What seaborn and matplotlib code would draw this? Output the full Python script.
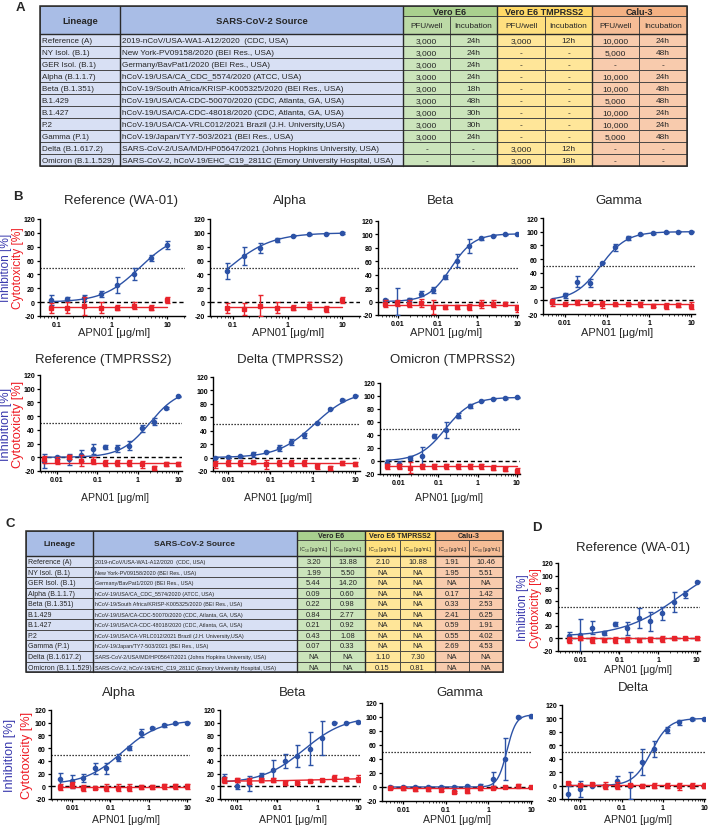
import numpy as np
import matplotlib
matplotlib.use("Agg")
import matplotlib.pyplot as plt
from matplotlib.patches import Rectangle
from matplotlib.ticker import FixedLocator, LogLocator, NullFormatter
import seaborn as sns

W, H = 708, 828

# ---------------- tables (A and C) ----------------
lineages = ["Reference (A)", "NY Isol. (B.1)", "GER Isol. (B.1)", "Alpha (B.1.1.7)",
            "Beta (B.1.351)", "B.1.429", "B.1.427", "P.2", "Gamma (P.1)",
            "Delta (B.1.617.2)", "Omicron (B.1.1.529)"]
sources = ["2019-nCoV/USA-WA1-A12/2020  (CDC, USA)",
           "New York-PV09158/2020 (BEI Res., USA)",
           "Germany/BavPat1/2020 (BEI Res., USA)",
           "hCoV-19/USA/CA_CDC_5574/2020 (ATCC, USA)",
           "hCoV-19/South Africa/KRISP-K005325/2020 (BEI Res., USA)",
           "hCoV-19/USA/CA-CDC-50070/2020 (CDC, Atlanta, GA, USA)",
           "hCoV-19/USA/CA-CDC-48018/2020 (CDC, Atlanta, GA, USA)",
           "hCoV-19/USA/CA-VRLC012/2021 Brazil (J.H. University,USA)",
           "hCoV-19/Japan/TY7-503/2021 (BEI Res., USA)",
           "SARS-CoV-2/USA/MD/HP05647/2021 (Johns Hopkins University, USA)",
           "SARS-CoV-2, hCoV-19/EHC_C19_2811C (Emory University Hospital, USA)"]
cell_lines = ["Vero E6", "Vero E6 TMPRSS2", "Calu-3"]

vero_pfu = ["3,000", "3,000", "3,000", "3,000", "3,000", "3,000", "3,000", "3,000", "3,000", "-", "-"]
vero_inc = ["24h", "24h", "24h", "24h", "18h", "48h", "30h", "30h", "24h", "-", "-"]
tmp_pfu = ["3,000", "-", "-", "-", "-", "-", "-", "-", "-", "3,000", "3,000"]
tmp_inc = ["12h", "-", "-", "-", "-", "-", "-", "-", "-", "12h", "18h"]
calu_pfu = ["10,000", "5,000", "-", "10,000", "10,000", "5,000", "10,000", "10,000", "5,000", "-", "-"]
calu_inc = ["24h", "48h", "-", "24h", "48h", "48h", "24h", "24h", "48h", "-", "-"]

vero_ic50 = ["3.20", "1.99", "5.44", "0.09", "0.22", "0.84", "0.21", "0.43", "0.07", "NA", "NA"]
vero_ic90 = ["13.88", "5.50", "14.20", "0.60", "0.98", "2.77", "0.92", "1.08", "0.33", "NA", "NA"]
tmp_ic50 = ["2.10", "NA", "NA", "NA", "NA", "NA", "NA", "NA", "NA", "1.10", "0.15"]
tmp_ic90 = ["10.88", "NA", "NA", "NA", "NA", "NA", "NA", "NA", "NA", "7.30", "0.81"]
calu_ic50 = ["1.91", "1.95", "NA", "0.17", "0.33", "2.41", "0.59", "0.55", "2.69", "NA", "NA"]
calu_ic90 = ["10.46", "5.51", "NA", "1.42", "2.53", "6.25", "1.91", "4.02", "4.53", "NA", "NA"]

# ---------------- dose-response data ----------------
dose_8 = [0.078, 0.156, 0.3125, 0.625, 1.25, 2.5, 5, 10]
dose_12 = [0.0049, 0.0098, 0.0195, 0.039, 0.078, 0.156, 0.3125, 0.625, 1.25, 2.5, 5, 10]

# fits: (bottom, top, ec50, hill)
ref_wa01_inh = [3, 5, 6, 12, 25, 41, 64, 82]
ref_wa01_inh_sd = [7, 2, 5, 4, 12, 9, 4, 6]
ref_wa01_cyt = [-8, -8, -5, -8, -8, -5, -8, 3]
ref_wa01_cyt_sd = [7, 8, 13, 8, 4, 5, 4, 4]
ref_wa01_fit = (0, 100, 3.2, 1.3)
ref_wa01_cyt_fit = (-7, -7, 1, 1)

alpha_b_inh = [45, 67, 78, 90, 96, 98, 99, 100]
alpha_b_inh_sd = [12, 13, 7, 3, 1, 1, 1, 1]
alpha_b_cyt = [-8, -10, -5, -8, -8, -5, -10, 3]
alpha_b_cyt_sd = [7, 9, 15, 8, 4, 5, 4, 4]
alpha_b_fit = (0, 100, 0.085, 1.1)
alpha_b_cyt_fit = (-7, -7, 1, 1)

beta_b_inh = [3, 0, 3, 12, 17, 36, 61, 83, 94, 98, 100, 101]
beta_b_inh_sd = [1, 20, 3, 4, 4, 3, 10, 10, 2, 1, 1, 1]
beta_b_cyt = [-3, -2, -3, -2, -8, -8, -8, -8, -3, -3, -3, -10]
beta_b_cyt_sd = [5, 5, 5, 6, 10, 3, 3, 4, 6, 5, 2, 5]
beta_b_fit = (0, 101, 0.22, 1.5)
beta_b_cyt_fit = (-5, -5, 1, 1)

gamma_b_inh = [-2, 7, 27, 25, 55, 77, 91, 96, 98, 99, 100, 100]
gamma_b_inh_sd = [4, 3, 8, 6, 1, 5, 3, 1, 1, 1, 1, 1]
gamma_b_cyt = [-3, -5, -3, -5, -6, -6, -6, -6, -8, -8, -7, -8]
gamma_b_cyt_sd = [5, 2, 4, 2, 5, 2, 2, 4, 2, 4, 3, 5]
gamma_b_fit = (0, 100, 0.07, 1.4)
gamma_b_cyt_fit = (-6, -6, 1, 1)

ref_tmp_inh = [-5, 0, -3, 3, 12, 15, 13, 17, 42, 52, 72, 89]
ref_tmp_inh_sd = [10, 2, 8, 8, 7, 3, 5, 7, 5, 5, 2, 1]
ref_tmp_cyt = [-3, -5, 0, -5, -5, -8, -8, -8, -10, -15, -10, -10]
ref_tmp_cyt_sd = [5, 5, 3, 8, 5, 4, 4, 4, 5, 3, 3, 3]
ref_tmp_fit = (0, 100, 2.0, 1.2)
ref_tmp_cyt_fit = (-8, -8, 1, 1)

delta_tmp_inh = [0, 1, 2, 5, 9, 14, 23, 33, 52, 73, 86, 92]
delta_tmp_inh_sd = [1, 1, 1, 4, 1, 4, 4, 4, 1, 1, 1, 1]
delta_tmp_cyt = [-10, -8, -8, -7, -10, -8, -8, -8, -13, -15, -8, -10]
delta_tmp_cyt_sd = [5, 4, 4, 2, 7, 4, 4, 4, 4, 3, 3, 3]
delta_tmp_fit = (0, 100, 1.1, 1.0)
delta_tmp_cyt_fit = (-8, -8, 1, 1)

omicron_tmp_inh = [-3, -5, 4, 8, 38, 48, 70, 85, 93, 96, 97, 98]
omicron_tmp_inh_sd = [5, 5, 3, 14, 3, 12, 4, 3, 1, 1, 1, 1]
omicron_tmp_cyt = [-8, -8, -10, -8, -8, -8, -8, -8, -8, -10, -12, -15]
omicron_tmp_cyt_sd = [4, 4, 8, 4, 4, 4, 4, 4, 4, 4, 3, 4]
omicron_tmp_fit = (0, 98, 0.15, 1.3)
omicron_tmp_cyt_fit = (-8, -8, 1, 1)

ref_calu_inh = [4, 5, 17, 9, 23, 16, 33, 27, 40, 58, 70, 90]
ref_calu_inh_sd = [7, 26, 10, 3, 3, 10, 16, 15, 10, 16, 5, 1]
ref_calu_cyt = [-2, 0, -3, -3, -2, -2, -2, -1, -1, 0, 0, 0]
ref_calu_cyt_sd = [5, 2, 5, 2, 5, 4, 3, 4, 5, 2, 3, 3]
ref_calu_fit = (3, 130, 3.5, 0.6)
ref_calu_cyt_fit = (0, 0, 1, 1)

alpha_c_inh = [11, 8, 13, 28, 28, 45, 60, 84, 92, 96, 99, 100]
alpha_c_inh_sd = [10, 10, 6, 8, 8, 6, 3, 6, 2, 2, 1, 1]
alpha_c_cyt = [-1, 2, -3, -3, -2, -2, -2, -1, -1, 0, 0, 0]
alpha_c_cyt_sd = [5, 5, 5, 2, 5, 5, 5, 3, 3, 4, 4, 4]
alpha_c_fit = (3, 104, 0.2, 0.9)
alpha_c_cyt_fit = (-0.5, -0.5, 1, 1)

beta_c_inh = [13, 1, 4, 16, 26, 40, 48, 59, 76, 100, 100, 101]
beta_c_inh_sd = [7, 5, 12, 5, 16, 11, 17, 26, 27, 1, 1, 1]
beta_c_cyt = [10, 10, 8, 10, 10, 5, 5, 8, 10, 13, 11, 12]
beta_c_cyt_sd = [5, 3, 5, 3, 3, 3, 2, 2, 2, 4, 2, 5]
beta_c_fit = (5, 110, 0.45, 0.85)
beta_c_cyt_fit = (8, 13, 1.5, 0.6)

gamma_c_inh = [0, 0, 0, 0, 0, 0, 1, 2, 12, 40, 100, 101]
gamma_c_inh_sd = [1, 1, 1, 1, 1, 1, 2, 2, 10, 30, 1, 2]
gamma_c_cyt = [-1, -2, -3, -3, -4, -7, -5, -2, -1, 0, 2, 0]
gamma_c_cyt_sd = [2, 2, 2, 2, 2, 2, 4, 2, 2, 2, 2, 2]
gamma_c_fit = (0, 103, 2.7, 4.0)
gamma_c_cyt_fit = (-1, -1, 1, 1)

delta_c_inh = [-12, -5, 0, 0, 7, 0, 35, 55, 83, 94, 99, 99]
delta_c_inh_sd = [12, 12, 1, 1, 8, 20, 19, 12, 4, 4, 1, 1]
delta_c_cyt = [4, 1, 2, 0, 0, 1, 0, 0, 0, -1, 0, 0]
delta_c_cyt_sd = [2, 2, 2, 5, 5, 2, 2, 4, 4, 5, 4, 4]
delta_c_fit = (0, 100, 0.52, 2.0)
delta_c_cyt_fit = (0.5, 0.5, 1, 1)

BLUE = "#2c52a6"
RED = "#e8232b"
INH_TXT = "#3a3aae"
CYT_TXT = "#ee1c24"
BLUE_HEAD, BLUE_ROW = "#a9bde6", "#d8e0f4"
GROUP_COLORS = [("#a9d08e", "#bcdaa6", "#cbe4bb"),
                ("#ffd966", "#ffe07f", "#ffe699"),
                ("#f4b183", "#f6bd96", "#f8cbad")]

sns.set_style("ticks")
plt.rcParams["font.family"] = ["Liberation Sans", "DejaVu Sans"]
plt.rcParams["axes.unicode_minus"] = False

fig = plt.figure(figsize=(W / 100, H / 100), dpi=100)
canvas = fig.add_axes([0, 0, 1, 1])
canvas.set_xlim(0, W)
canvas.set_ylim(H, 0)
canvas.axis("off")


def four_pl(x, bottom, top, ec50, hill):
    return bottom + (top - bottom) / (1 + (ec50 / x) ** hill)


def cell(x0, y0, x1, y1, color, text="", size=6, bold=False, ha="center", pad=2):
    canvas.add_patch(Rectangle((x0, y0), x1 - x0, y1 - y0, facecolor=color,
                               edgecolor="#3c3c3c", lw=0.6))
    if text:
        tx = (x0 + x1) / 2 if ha == "center" else x0 + pad
        canvas.text(tx, (y0 + y1) / 2 + 0.3, text, ha=ha, va="center", fontsize=size,
                    fontweight="bold" if bold else "normal")


def draw_table(xs, top, mid, head_bot, row_h, sub_labels, value_cols, sz):
    cell(xs[0], top, xs[1], head_bot, BLUE_HEAD, "Lineage", sz["head"], bold=True)
    cell(xs[1], top, xs[2], head_bot, BLUE_HEAD, "SARS-CoV-2 Source", sz["head"], bold=True)
    for g, name in enumerate(cell_lines):
        c_head, c_sub, _ = GROUP_COLORS[g]
        cell(xs[2 + 2 * g], top, xs[4 + 2 * g], mid, c_head, name, sz["group"], bold=True)
        for k in range(2):
            cell(xs[2 + 2 * g + k], mid, xs[3 + 2 * g + k], head_bot, c_sub,
                 sub_labels[k], sz["sub"])
    for i, lin in enumerate(lineages):
        y0 = head_bot + i * row_h
        y1 = y0 + row_h
        cell(xs[0], y0, xs[1], y1, BLUE_ROW, lin, sz["lineage"], ha="left", pad=1.5)
        cell(xs[1], y0, xs[2], y1, BLUE_ROW, sources[i], sz["source"], ha="left")
        for c, col in enumerate(value_cols):
            cell(xs[2 + c], y0, xs[3 + c], y1, GROUP_COLORS[c // 2][2], col[i], sz["value"])
    bottom = head_bot + len(lineages) * row_h
    canvas.add_patch(Rectangle((xs[0], top), xs[-1] - xs[0], bottom - top,
                               fill=False, edgecolor="#2a2a2a", lw=1.1))
    canvas.plot([xs[0], xs[-1]], [head_bot, head_bot], color="#2a2a2a", lw=1.0)
    for xv in (xs[1], xs[2], xs[4], xs[6]):
        canvas.plot([xv, xv], [top, bottom], color="#2a2a2a", lw=1.0)


# table A
draw_table([40, 120, 403, 450, 497, 545, 592, 639, 687], 7, 17, 35, 12,
           ["PFU/well", "Incubation"],
           [vero_pfu, vero_inc, tmp_pfu, tmp_inc, calu_pfu, calu_inc],
           dict(head=6.8, group=6.5, sub=5.9, lineage=5.8, source=5.9, value=6.0))

# table C
draw_table([26, 93, 297, 330, 365, 400, 435, 469, 503], 532, 541, 557, 10.55,
           ["IC\u2085\u2080 [µg/mL]", "IC\u2089\u2080 [µg/mL]"],
           [vero_ic50, vero_ic90, tmp_ic50, tmp_ic90, calu_ic50, calu_ic90],
           dict(head=6.0, group=5.1, sub=3.5, lineage=5.0, source=3.9, value=5.4))

# panel letters
for letter, (lx, ly) in {"A": (20, 8), "B": (18, 197), "C": (10, 524), "D": (537, 528)}.items():
    canvas.text(lx, ly, letter, fontsize=9.5, fontweight="bold", ha="center", va="center")

panels = [
    ("Reference (WA-01)", dose_8, ref_wa01_inh, ref_wa01_inh_sd, ref_wa01_cyt, ref_wa01_cyt_sd,
     ref_wa01_fit, ref_wa01_cyt_fit, (40, 220, 185, 317), (0.05, 21), [0.1, 1, 10],
     (121, 201), (114, 333, 8)),
    ("Alpha", dose_8, alpha_b_inh, alpha_b_inh_sd, alpha_b_cyt, alpha_b_cyt_sd,
     alpha_b_fit, alpha_b_cyt_fit, (210, 220, 360, 317), (0.038, 21), [0.1, 1, 10],
     (290, 201), (288, 333, 8)),
    ("Beta", dose_12, beta_b_inh, beta_b_inh_sd, beta_b_cyt, beta_b_cyt_sd,
     beta_b_fit, beta_b_cyt_fit, (378, 222, 518, 316), (0.0032, 10.5), [0.01, 0.1, 1, 10],
     (441, 201), (446, 333, 8)),
    ("Gamma", dose_12, gamma_b_inh, gamma_b_inh_sd, gamma_b_cyt, gamma_b_cyt_sd,
     gamma_b_fit, gamma_b_cyt_fit, (543, 219, 695, 315), (0.003, 12.4), [0.01, 0.1, 1, 10],
     (619, 201), (617, 333, 8)),
    ("Reference (TMPRSS2)", dose_12, ref_tmp_inh, ref_tmp_inh_sd, ref_tmp_cyt, ref_tmp_cyt_sd,
     ref_tmp_fit, ref_tmp_cyt_fit, (40, 376, 182, 472), (0.0038, 12.6), [0.01, 0.1, 1, 10],
     (103, 360), (115, 498, 7.6)),
    ("Delta (TMPRSS2)", dose_12, delta_tmp_inh, delta_tmp_inh_sd, delta_tmp_cyt, delta_tmp_cyt_sd,
     delta_tmp_fit, delta_tmp_cyt_fit, (213, 378, 360, 472), (0.0044, 13), [0.01, 0.1, 1, 10],
     (290, 360), (278, 498, 7.6)),
    ("Omicron (TMPRSS2)", dose_12, omicron_tmp_inh, omicron_tmp_inh_sd, omicron_tmp_cyt,
     omicron_tmp_cyt_sd, omicron_tmp_fit, omicron_tmp_cyt_fit, (380, 384, 520, 475),
     (0.0033, 12), [0.01, 0.1, 1, 10], (453, 360), (449, 498, 7.6)),
    ("Reference (WA-01)", dose_12, ref_calu_inh, ref_calu_inh_sd, ref_calu_cyt, ref_calu_cyt_sd,
     ref_calu_fit, ref_calu_cyt_fit, (558, 564, 700, 652), (0.0026, 12), [0.01, 0.1, 1, 10],
     (633, 548), (638, 670, 7.6)),
    ("Alpha", dose_12, alpha_c_inh, alpha_c_inh_sd, alpha_c_cyt, alpha_c_cyt_sd,
     alpha_c_fit, alpha_c_cyt_fit, (51, 711, 190, 800), (0.0028, 12), [0.01, 0.1, 1, 10],
     (119, 693), (126, 820, 7.6)),
    ("Beta", dose_12, beta_c_inh, beta_c_inh_sd, beta_c_cyt, beta_c_cyt_sd,
     beta_c_fit, beta_c_cyt_fit, (220, 711, 360, 800), (0.0038, 11), [0.01, 0.1, 1, 10],
     (292, 693), (293, 820, 7.6)),
    ("Gamma", dose_12, gamma_c_inh, gamma_c_inh_sd, gamma_c_cyt, gamma_c_cyt_sd,
     gamma_c_fit, gamma_c_cyt_fit, (382, 704, 532, 802), (0.0032, 10.5), [0.01, 0.1, 1, 10],
     (460, 693), (457, 820, 7.6)),
    ("Delta", dose_12, delta_c_inh, delta_c_inh_sd, delta_c_cyt, delta_c_cyt_sd,
     delta_c_fit, delta_c_cyt_fit, (562, 706, 705, 800), (0.0036, 10.5), [0.01, 0.1, 1, 10],
     (633, 688), (638, 820, 7.6)),
]

for (title, dose, inh, inh_sd, cyt, cyt_sd, fit, cyt_fit, rect, xlim, xticks,
     title_xy, xlab) in panels:
    l, t, r, b = rect
    ax = fig.add_axes([l / W, 1 - b / H, (r - l) / W, (b - t) / H])
    ax.patch.set_alpha(0)
    ax.set_xscale("log")
    ax.axhline(50, color="black", ls=(0, (1, 1.4)), lw=0.9, zorder=1)
    ax.axhline(0, color="black", ls=(0, (3, 2)), lw=1.0, zorder=1)

    xs = np.logspace(np.log10(dose[0]), np.log10(dose[-1]), 200)
    sns.lineplot(x=xs, y=four_pl(xs, *fit), ax=ax, color=BLUE, lw=1.0, zorder=3)
    sns.lineplot(x=xs, y=four_pl(xs, *cyt_fit), ax=ax, color=RED, lw=1.0, zorder=4)
    ax.errorbar(dose, inh, yerr=inh_sd, fmt="o", ms=3, color=BLUE, ecolor=BLUE,
                elinewidth=1, capsize=1.8, capthick=1, zorder=3)
    ax.errorbar(dose, cyt, yerr=cyt_sd, fmt="s", ms=2.8, color=RED, ecolor=RED,
                elinewidth=1, capsize=1.8, capthick=1, zorder=4)

    ax.set_xlim(*xlim)
    ax.set_ylim(-20, 120)
    ax.set_yticks(range(-20, 121, 20))
    ax.set_yticklabels([str(v) for v in range(-20, 121, 20)])
    ax.xaxis.set_major_locator(FixedLocator(xticks))
    ax.set_xticklabels([f"{v:g}" for v in xticks])
    ax.xaxis.set_minor_locator(LogLocator(base=10, subs=np.arange(2, 10)))
    ax.xaxis.set_minor_formatter(NullFormatter())
    ax.set_xlabel("")
    ax.set_ylabel("")
    sns.despine(ax=ax)
    for side in ("left", "bottom"):
        ax.spines[side].set_linewidth(1.0)
        ax.spines[side].set_color("black")
    ax.tick_params(axis="both", which="major", length=2.5, width=0.9, pad=1.2,
                   labelsize=5, colors="black")
    ax.tick_params(axis="x", which="minor", length=1.4, width=0.6)
    for lab in ax.get_xticklabels() + ax.get_yticklabels():
        lab.set_fontweight("bold")

    canvas.text(title_xy[0], title_xy[1], title, fontsize=9.5, ha="center", va="center")
    canvas.text(xlab[0], xlab[1], "APN01 [μg/ml]", fontsize=xlab[2], ha="center", va="center")

# two-colour y labels
for xb, xr, yc, size in [(6, 18, 268, 8.6), (6, 18, 424, 9.2), (10, 27, 755, 9.2),
                         (523, 536, 608, 8.4)]:
    canvas.text(xb, yc, "Inhibition [%]", rotation=90, ha="center", va="center",
                color=INH_TXT, fontsize=size)
    canvas.text(xr, yc, "Cytotoxicity [%]", rotation=90, ha="center", va="center",
                color=CYT_TXT, fontsize=size)

fig.savefig("out.png", dpi=100)
